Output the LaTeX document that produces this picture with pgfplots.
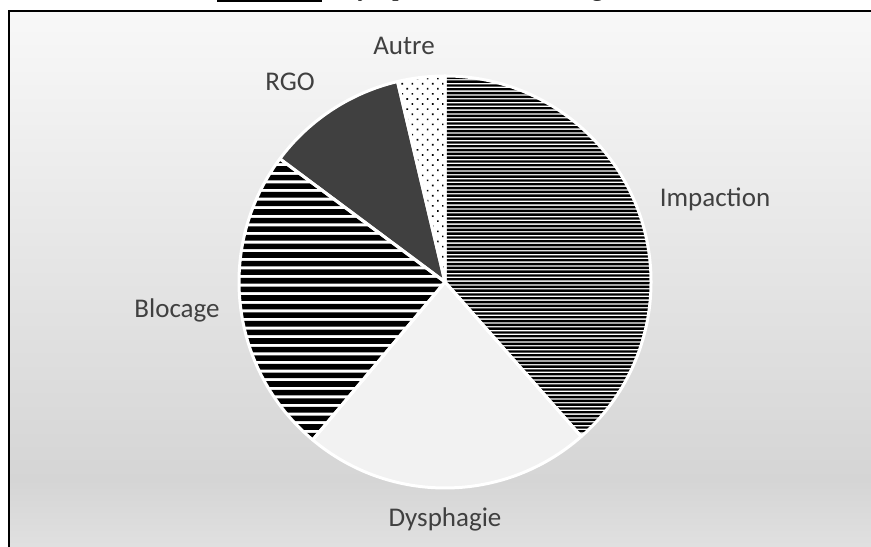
\documentclass[border=0pt]{standalone}
\usepackage{pgfplots}
\pgfplotsset{compat=1.18}
\usepackage{pgfplotstable}
\usetikzlibrary{patterns.meta}
\usepackage{fontspec}
\setmainfont{Carlito}
\newfontfamily\titlefont{Liberation Serif}
\definecolor{lbl}{HTML}{404040}
\definecolor{rgo}{HTML}{404040}
\definecolor{dys}{HTML}{F2F2F2}
\definecolor{bgtop}{HTML}{F8F8F8}
\definecolor{bgmid}{HTML}{D5D5D5}
\definecolor{bgbot}{HTML}{E1E1E1}

\pgfplotstableread{
label value
Impaction 38.5
Dysphagie 22.6
Blocage 24.1
RGO 11.1
Autre 3.7
}\piedata

\tikzset{
 lab/.style={anchor=base, text=lbl, font=\fontsize{27bp}{32bp}\selectfont, inner sep=0pt},
}
\newcommand\sector[2]{(axis cs:445,265) -- ++(#1:206bp) arc[start angle=#1,end angle=#2,radius=206bp] -- cycle}

% cumulative angles (clockwise from the top) from the table
\def\angA{90}%
\pgfplotstablegetelem{0}{value}\of\piedata \pgfmathsetmacro\angB{\angA-3.6*\pgfplotsretval}%
\pgfplotstablegetelem{1}{value}\of\piedata \pgfmathsetmacro\angC{\angB-3.6*\pgfplotsretval}%
\pgfplotstablegetelem{2}{value}\of\piedata \pgfmathsetmacro\angD{\angC-3.6*\pgfplotsretval}%
\pgfplotstablegetelem{3}{value}\of\piedata \pgfmathsetmacro\angE{\angD-3.6*\pgfplotsretval}%
\pgfplotstablegetelem{4}{value}\of\piedata \pgfmathsetmacro\angF{\angE-3.6*\pgfplotsretval}%
% stripe textures
\gdef\stripesA{}%
\foreach \k in {0,...,112}{\pgfmathsetmacro\ya{57.5+\k*3.8}\pgfmathsetmacro\yb{\ya+2.4}\xdef\stripesA{\stripesA (axis cs:440,\ya) rectangle (axis cs:660,\yb)}}%
\gdef\stripesB{}%
\foreach \k in {0,...,50}{\pgfmathsetmacro\ya{57+\k*8.6}\pgfmathsetmacro\yb{\ya+5.6}\xdef\stripesB{\stripesB (axis cs:230,\ya) rectangle (axis cs:450,\yb)}}%

\begin{document}%
\begin{tikzpicture}[x=1bp,y=1bp]
\path[use as bounding box, clip] (0,0) rectangle (871,547);
\begin{axis}[at={(0,0)}, anchor=origin, width=871bp, height=547bp, scale only axis,
  xmin=0, xmax=871, ymin=0, ymax=547, hide axis, clip=false]
\shade[top color=bgtop, bottom color=bgmid] (axis cs:9,67) rectangle (axis cs:880,536);
\shade[top color=bgmid, bottom color=bgbot] (axis cs:9,-5) rectangle (axis cs:880,67.5);
\draw[black, line width=2.2bp] (axis cs:9,-5) -- (axis cs:9,536) -- (axis cs:880,536);
% title (clipped at top)
\fill[black] (axis cs:217,544.8) rectangle (axis cs:322,547.5);
\node[anchor=base west, inner sep=0pt, font=\titlefont\fontsize{27bp}{32bp}\selectfont] at (axis cs:217,551) {Figure 12};
\node[anchor=base west, inner sep=0pt, font=\titlefont\fontsize{27bp}{32bp}\selectfont] at (axis cs:326,551) {: Symptômes lors du diagnostic};
% Impaction
\fill[white] \sector{\angA}{\angB};
\begin{scope}
\clip \sector{\angA}{\angB};
\fill[black] \stripesA;
\end{scope}
% Dysphagie
\fill[dys] \sector{\angB}{\angC};
% Blocage
\fill[white] \sector{\angC}{\angD};
\begin{scope}
\clip \sector{\angC}{\angD};
\fill[black] \stripesB;
\end{scope}
% RGO
\fill[rgo] \sector{\angD}{\angE};
% Autre
\fill[white] \sector{\angE}{\angF};
\path[pattern={Dots[angle=45,distance=7.2bp,radius=1.15bp]},pattern color=black] \sector{\angE}{\angF};
% borders
\foreach \s/\e in {\angA/\angB,\angB/\angC,\angC/\angD,\angD/\angE,\angE/\angF}{
  \edef\temp{\noexpand\draw[white, line width=3bp, line join=round] \noexpand\sector{\s}{\e};}\temp
}
% labels
\node[lab] at (axis cs:715,340) {Impaction};
\node[lab] at (axis cs:445,20) {Dysphagie};
\node[lab] at (axis cs:177,229) {Blocage};
\node[lab] at (axis cs:290,456) {RGO};
\node[lab] at (axis cs:404,492) {Autre};
\end{axis}
\end{tikzpicture}%
\end{document}
